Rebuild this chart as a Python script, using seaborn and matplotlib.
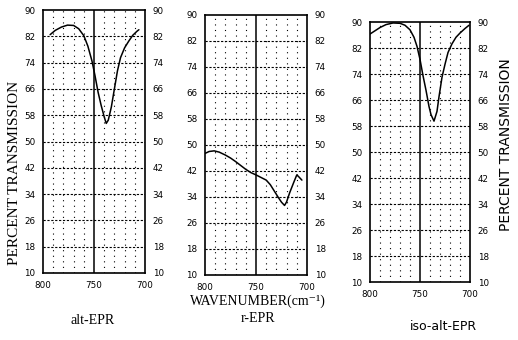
import matplotlib
matplotlib.use("Agg")
import matplotlib.pyplot as plt
import seaborn as sns
import pandas as pd

# ---- data ----
yticks = [10, 18, 26, 34, 42, 50, 58, 66, 74, 82, 90]
xticks = [800, 750, 700]

alt_x = [793, 788, 782, 776, 770, 765, 760, 756, 752, 749, 746, 743, 740, 738,
         736, 733, 730, 727, 724, 720, 716, 712, 708, 706]
alt_y = [82.5, 83.8, 84.8, 85.4, 85.3, 84.3, 82.2, 79.0, 74.5, 70.0, 65.0, 61.0,
         57.5, 55.5, 56.5, 60.5, 66.0, 71.5, 75.5, 78.5, 80.5, 82.3, 83.5, 84.0]

r_x = [800, 796, 791, 786, 780, 775, 770, 765, 760, 755, 750, 745, 740, 736,
       732, 728, 725, 722, 720, 717, 713, 710, 708, 705]
r_y = [47.4, 48.0, 48.2, 47.8, 46.9, 46.0, 44.9, 43.7, 42.5, 41.5, 40.8, 40.0,
       39.2, 37.8, 35.8, 33.8, 32.4, 31.4, 32.5, 35.3, 38.5, 40.8, 40.2, 39.2]

iso_x = [800, 795, 790, 784, 777, 770, 765, 760, 756, 753, 750, 747, 744, 741,
         739, 736, 733, 731, 728, 725, 722, 718, 714, 710, 705, 701]
iso_y = [86.3, 87.3, 88.3, 89.2, 89.7, 89.6, 89.0, 87.6, 85.3, 82.5, 78.5, 73.5,
         69.0, 64.0, 61.5, 59.5, 62.5, 67.0, 73.0, 77.0, 80.6, 83.3, 85.3, 86.6,
         88.0, 89.0]

panel_names = ["alt-EPR", "r-EPR", "iso-alt-EPR"]

sns.set_style("white")
plt.rcParams['font.family'] = ['DejaVu Sans']
plt.rcParams['text.color'] = 'black'
plt.rcParams['xtick.color'] = 'black'
plt.rcParams['ytick.color'] = 'black'

tick_family = "DejaVu Sans"
tick_size = 6.3

fig = plt.figure(figsize=(5.18, 3.40), dpi=100)
rects = [
    [43/518, (340-273)/340, 102/518, 263/340],
    [205/518, (340-275)/340, 102/518, 260/340],
    [370/518, (340-282)/340, 100/518, 260/340],
]
series = [(alt_x, alt_y), (r_x, r_y), (iso_x, iso_y)]

for rect, (xs, ys), name in zip(rects, series, panel_names):
    ax = fig.add_axes(rect)
    df = pd.DataFrame({"wn": xs, "T": ys})
    sns.lineplot(data=df, x="wn", y="T", ax=ax, color="black", linewidth=1.1,
                 sort=False, estimator=None)
    ax.set_xlim(800, 700)
    ax.set_ylim(10, 90)
    ax.set_xticks(xticks)
    ax.set_yticks(yticks)
    ax.set_xticklabels([str(v) for v in xticks], family=tick_family, fontsize=tick_size)
    ax.set_yticklabels([str(v) for v in yticks], family=tick_family, fontsize=tick_size)
    ax.set_xlabel("")
    ax.set_ylabel("")
    # horizontal dashed grid
    for v in yticks[1:-1]:
        ax.axhline(v, color="black", linewidth=0.8, linestyle=(0, (2, 1.5)), zorder=1)
    # vertical dotted grid every 10
    for v in range(710, 800, 10):
        if v == 750:
            continue
        ax.axvline(v, color="black", linewidth=0.8, linestyle=(0, (1, 4)), zorder=1)
    ax.axvline(750, color="black", linewidth=1.1, zorder=1)
    for s in ax.spines.values():
        s.set_visible(True)
        s.set_color("black")
        s.set_linewidth(1.2)
    ax.tick_params(axis="y", which="both", left=False, right=False,
                   labelleft=True, labelright=True, pad=2)
    ax.tick_params(axis="x", which="both", bottom=False, pad=2)

fig.text(15/518, 0.49, "PERCENT TRANSMISSION", rotation=90, ha="center", va="center",
         fontsize=11, family="Liberation Serif")
fig.text(506/518, 0.575, "PERCENT TRANSMISSION", rotation=90, ha="center", va="center",
         fontsize=10, family="DejaVu Sans")
fig.text(258/518, 1-301/340, "WAVENUMBER(cm\u207b\u00b9)", ha="center", va="center",
         fontsize=10, family=["Liberation Serif", "DejaVu Serif"])
fig.text(258/518, 1-318/340, "r-EPR", ha="center", va="center",
         fontsize=10, family="Liberation Serif")
fig.text(93/518, 1-321/340, "alt-EPR", ha="center", va="center",
         fontsize=10, family="Liberation Serif")
fig.text(443/518, 1-327/340, "iso-alt-EPR", ha="center", va="center",
         fontsize=9, family="DejaVu Sans")

fig.savefig("out.png", dpi=100)
